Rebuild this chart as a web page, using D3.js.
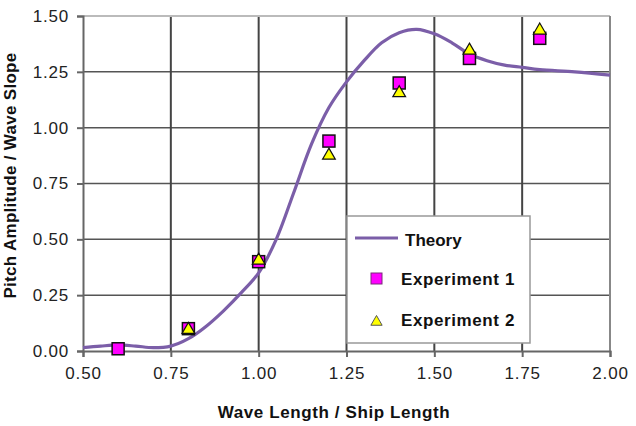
<!DOCTYPE html>
<html>
<head>
<meta charset="utf-8">
<script src="https://cdn.jsdelivr.net/npm/d3@7"></script>
<style>
    body { margin: 0; background: #fff; }
    text { font-family: "Liberation Sans", Arial, sans-serif; }
</style>
</head>
<body>
<div id="chart"></div>
<script>

// theory curve (wave length / ship length -> pitch amplitude / wave slope)
var theoryX = [0.50, 0.55, 0.60, 0.65, 0.70, 0.75, 0.80, 0.85, 0.90, 0.95, 1.00, 1.05, 1.10, 1.15, 1.20, 1.25, 1.30, 1.35, 1.40, 1.45, 1.50, 1.55, 1.60, 1.65, 1.70, 1.75, 1.80, 1.90, 2.00];
var theoryY = [0.015, 0.022, 0.027, 0.022, 0.015, 0.022, 0.055, 0.11, 0.18, 0.26, 0.35, 0.50, 0.71, 0.925, 1.09, 1.205, 1.30, 1.38, 1.425, 1.44, 1.42, 1.38, 1.33, 1.30, 1.28, 1.27, 1.26, 1.25, 1.235];

var exp1X = [0.6, 0.8, 1.0, 1.2, 1.4, 1.6, 1.8];
var exp1Y = [0.01, 0.10, 0.40, 0.94, 1.20, 1.31, 1.40];

var exp2X = [0.8, 1.0, 1.2, 1.4, 1.6, 1.8];
var exp2Y = [0.10, 0.41, 0.88, 1.16, 1.35, 1.44];

var xTicks = [0.50, 0.75, 1.00, 1.25, 1.50, 1.75, 2.00];
var yTicks = [0.00, 0.25, 0.50, 0.75, 1.00, 1.25, 1.50];

var legendNames = ["Theory", "Experiment 1", "Experiment 2"];

var margin = { top: 16, right: 26, bottom: 75, left: 83 },
    width = 636 - margin.left - margin.right,
    height = 426 - margin.top - margin.bottom;

var svg = d3.select("#chart").append("svg")
    .attr("width", 636)
    .attr("height", 426)
    .append("g")
    .attr("transform", "translate(" + margin.left + "," + margin.top + ")");

var x = d3.scaleLinear().domain([0.5, 2.0]).range([0, width]);
var y = d3.scaleLinear().domain([0, 1.5]).range([height, 0]);

// grid
svg.selectAll(".hgrid")
    .data(yTicks.slice(1, -1))
    .enter().append("line")
    .attr("x1", 0).attr("x2", width)
    .attr("y1", function (d) { return y(d); })
    .attr("y2", function (d) { return y(d); })
    .attr("stroke", "#555")
    .attr("stroke-width", 1.5);

svg.selectAll(".vgrid")
    .data(xTicks.slice(1, -1))
    .enter().append("line")
    .attr("x1", function (d) { return x(d); })
    .attr("x2", function (d) { return x(d); })
    .attr("y1", 0).attr("y2", height)
    .attr("stroke", "#444")
    .attr("stroke-width", 2);

// top and right border
svg.append("line")
    .attr("x1", 0).attr("x2", width).attr("y1", 0).attr("y2", 0)
    .attr("stroke", "#bbb").attr("stroke-width", 2);
svg.append("line")
    .attr("x1", width).attr("x2", width).attr("y1", 0).attr("y2", height)
    .attr("stroke", "#888").attr("stroke-width", 2);

// axes
var xAxis = d3.axisBottom(x)
    .tickValues(xTicks)
    .tickSize(6)
    .tickPadding(10)
    .tickFormat(d3.format(".2f"));

var yAxis = d3.axisLeft(y)
    .tickValues(yTicks)
    .tickSize(6)
    .tickPadding(8)
    .tickFormat(d3.format(".2f"));

var gx = svg.append("g")
    .attr("transform", "translate(0," + height + ")")
    .call(xAxis);

var gy = svg.append("g")
    .call(yAxis);

[gx, gy].forEach(function (g) {
    g.select(".domain").attr("stroke", "#666").attr("stroke-width", 2);
    g.selectAll(".tick line").attr("stroke", "#666").attr("stroke-width", 2);
    g.selectAll(".tick text")
        .style("font-family", "'Liberation Sans', Arial, sans-serif")
        .style("font-size", "17px")
        .style("letter-spacing", "0.8px")
        .attr("fill", "#222");
});

// axis titles
svg.append("text")
    .attr("transform", "rotate(-90)")
    .attr("x", -height / 2 + 8)
    .attr("y", -margin.left + 16)
    .style("text-anchor", "middle")
    .style("font-size", "17px")
    .style("font-weight", "bold")
    .style("letter-spacing", "0.3px")
    .attr("fill", "#111")
    .text("Pitch Amplitude / Wave Slope");

svg.append("text")
    .attr("x", 334 - margin.left)
    .attr("y", 418 - margin.top)
    .style("text-anchor", "middle")
    .style("font-size", "17px")
    .style("font-weight", "bold")
    .style("letter-spacing", "0.6px")
    .attr("fill", "#111")
    .text("Wave Length / Ship Length");

// theory line
var theory = theoryX.map(function (d, i) { return [d, theoryY[i]]; });

var line = d3.line()
    .x(function (d) { return x(d[0]); })
    .y(function (d) { return y(d[1]); })
    .curve(d3.curveCatmullRom);

svg.append("path")
    .datum(theory)
    .attr("d", line)
    .attr("fill", "none")
    .attr("stroke", "#7b5ea8")
    .attr("stroke-width", 3.2);

// experiment 1 squares
svg.selectAll(".exp1")
    .data(exp1X)
    .enter().append("rect")
    .attr("class", "exp1")
    .attr("x", function (d) { return x(d) - 6; })
    .attr("y", function (d, i) { return y(exp1Y[i]) - 6; })
    .attr("width", 12)
    .attr("height", 12)
    .attr("fill", "#ff00ff")
    .attr("stroke", "#111")
    .attr("stroke-width", 1.5);

// experiment 2 triangles
var tri = d3.symbol().type(d3.symbolTriangle).size(70);

svg.selectAll(".exp2")
    .data(exp2X)
    .enter().append("path")
    .attr("class", "exp2")
    .attr("d", tri)
    .attr("transform", function (d, i) {
        return "translate(" + x(d) + "," + (y(exp2Y[i]) + 1) + ")";
    })
    .attr("fill", "#ffff00")
    .attr("stroke", "#111")
    .attr("stroke-width", 1.2);

// legend
var legend = svg.append("g")
    .attr("transform", "translate(" + (347 - margin.left) + "," + (216 - margin.top) + ")");

legend.append("rect")
    .attr("width", 183)
    .attr("height", 127)
    .attr("fill", "#fff")
    .attr("stroke", "#999")
    .attr("stroke-width", 1.5);

legend.append("line")
    .attr("x1", 8).attr("x2", 51)
    .attr("y1", 22).attr("y2", 22)
    .attr("stroke", "#7b5ea8")
    .attr("stroke-width", 3);

legend.append("rect")
    .attr("x", 24).attr("y", 57)
    .attr("width", 11).attr("height", 11)
    .attr("fill", "#ff00ff")
    .attr("stroke", "#7a2a7a")
    .attr("stroke-width", 1);

legend.append("path")
    .attr("d", d3.symbol().type(d3.symbolTriangle).size(55))
    .attr("transform", "translate(29.5,106)")
    .attr("fill", "#ffff00")
    .attr("stroke", "#555")
    .attr("stroke-width", 1);

legend.selectAll(".ltext")
    .data(legendNames)
    .enter().append("text")
    .attr("x", function (d, i) { return i == 0 ? 58 : 54; })
    .attr("y", function (d, i) { return [30, 69, 110][i]; })
    .style("font-size", "17px")
    .style("font-weight", "bold")
    .style("letter-spacing", function (d, i) { return i == 0 ? "0px" : "0.6px"; })
    .attr("fill", "#111")
    .text(function (d) { return d; });

</script>
</body>
</html>
